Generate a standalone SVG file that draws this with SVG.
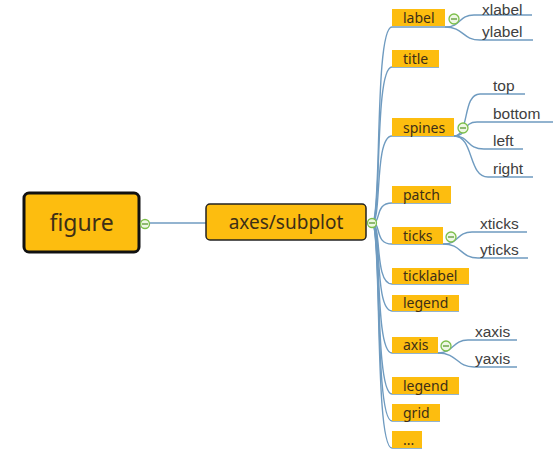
<svg xmlns="http://www.w3.org/2000/svg" width="560" height="457" viewBox="0 0 560 457">
<style>
.ln{fill:none;stroke:#6f9bc0;stroke-width:1.4}
.bx{fill:#fdbd0f}
.bt{font-family:"Noto Sans","Open Sans",sans-serif;font-size:14px;fill:#3d2f17}
.st{font-family:"Liberation Sans",Arial,sans-serif;font-size:15.5px;fill:#404040}
.cc{fill:#eef7e4;stroke:#7cbf4a;stroke-width:1.3}
.cm{stroke:#5a9a30;stroke-width:1.3}
</style>
<rect width="560" height="457" fill="#ffffff"/>
<g id="connectors">
<path class="ln" d="M150,223 L206,223"/>
<path class="ln" d="M372,223 C382,223 374,27 392,27 L445,27"/>
<path class="ln" d="M372,223 C382,223 374,67 392,67 L439,67"/>
<path class="ln" d="M372,223 C382,223 374,136 392,136 L454,136"/>
<path class="ln" d="M372,223 C382,223 374,203 392,203 L451,203"/>
<path class="ln" d="M372,223 C382,223 374,244 392,244 L443,244"/>
<path class="ln" d="M372,223 C382,223 374,284 392,284 L469,284"/>
<path class="ln" d="M372,223 C382,223 374,311 392,311 L459,311"/>
<path class="ln" d="M372,223 C382,223 374,353 392,353 L438,353"/>
<path class="ln" d="M372,223 C382,223 374,394 392,394 L459,394"/>
<path class="ln" d="M372,223 C382,223 374,421 392,421 L440,421"/>
<path class="ln" d="M372,223 C382,223 374,448 392,448 L422,448"/>
<path class="ln" d="M445,27 C462,27 458,15 474,15 L532,15"/>
<path class="ln" d="M445,27 C464,27 462,40 480,40 L533,40"/>
<path class="ln" d="M454,136 C470,136 462,94 480,94 L525,94"/>
<path class="ln" d="M454,136 C468,136 462,122 477,122 L553,122"/>
<path class="ln" d="M454,136 C470,136 466,149 484,149 L523,149"/>
<path class="ln" d="M454,136 C474,136 468,177 488,177 L533,177"/>
<path class="ln" d="M443,244 C460,244 456,232 472,232 L527,232"/>
<path class="ln" d="M443,244 C462,244 460,258 478,258 L528,258"/>
<path class="ln" d="M438,353 C454,353 452,340 468,340 L517,340"/>
<path class="ln" d="M438,353 C458,353 456,367 474,367 L517,367"/>
</g>
<g id="figure">
<rect x="24" y="193" width="115" height="59" rx="5" fill="#fdbd0f" stroke="#111" stroke-width="3"/>
<text x="81.5" y="231" text-anchor="middle" font-family="Noto Sans,Open Sans,sans-serif" font-size="23" fill="#3d2f17">figure</text>
<circle class="cc" cx="145" cy="224" r="4.5"/><line class="cm" x1="142" y1="224" x2="148" y2="224"/>
</g>
<g id="axes">
<rect x="206" y="204" width="160" height="36" rx="4" fill="#fdbd0f" stroke="#222" stroke-width="1.5"/>
<text x="286" y="229" text-anchor="middle" font-family="Noto Sans,Open Sans,sans-serif" font-size="19" fill="#3d2f17">axes/subplot</text>
<circle class="cc" cx="372" cy="223" r="4.5"/><line class="cm" x1="369" y1="223" x2="375" y2="223"/>
</g>
<g id="label"><rect class="bx" x="392" y="9" width="53" height="17"/><text class="bt" x="403" y="23">label</text>
<circle class="cc" cx="454" cy="19" r="5"/><line class="cm" x1="451" y1="19" x2="457" y2="19"/></g>
<g id="xlabel"><text class="st" x="482" y="14.5">xlabel</text></g>
<g id="ylabel"><text class="st" x="482" y="37">ylabel</text></g>
<g id="title"><rect class="bx" x="392" y="50" width="47" height="17"/><text class="bt" x="403" y="64">title</text></g>
<g id="spines"><rect class="bx" x="392" y="118" width="62" height="18"/><text class="bt" x="403" y="133">spines</text>
<circle class="cc" cx="463" cy="128" r="5"/><line class="cm" x1="460" y1="128" x2="466" y2="128"/></g>
<g id="top"><text class="st" x="493" y="91">top</text></g>
<g id="bottom"><text class="st" x="493" y="119">bottom</text></g>
<g id="left"><text class="st" x="493" y="146">left</text></g>
<g id="right"><text class="st" x="493" y="174">right</text></g>
<g id="patch"><rect class="bx" x="392" y="186" width="59" height="17"/><text class="bt" x="403" y="200">patch</text></g>
<g id="ticks"><rect class="bx" x="392" y="227" width="51" height="17"/><text class="bt" x="403" y="241">ticks</text>
<circle class="cc" cx="451" cy="237" r="5"/><line class="cm" x1="448" y1="237" x2="454" y2="237"/></g>
<g id="xticks"><text class="st" x="480" y="229">xticks</text></g>
<g id="yticks"><text class="st" x="480" y="255">yticks</text></g>
<g id="ticklabel"><rect class="bx" x="392" y="268" width="77" height="16"/><text class="bt" x="403" y="281">ticklabel</text></g>
<g id="legend1"><rect class="bx" x="392" y="295" width="67" height="16"/><text class="bt" x="403" y="308">legend</text></g>
<g id="axis"><rect class="bx" x="392" y="337" width="46" height="16"/><text class="bt" x="403" y="350">axis</text>
<circle class="cc" cx="446" cy="346" r="5"/><line class="cm" x1="443" y1="346" x2="449" y2="346"/></g>
<g id="xaxis"><text class="st" x="475" y="337">xaxis</text></g>
<g id="yaxis"><text class="st" x="475" y="364">yaxis</text></g>
<g id="legend2"><rect class="bx" x="392" y="377" width="67" height="17"/><text class="bt" x="403" y="391">legend</text></g>
<g id="grid"><rect class="bx" x="392" y="404" width="48" height="17"/><text class="bt" x="403" y="418">grid</text></g>
<g id="more"><rect class="bx" x="392" y="431" width="30" height="17"/><text class="bt" x="403" y="445">...</text></g>
</svg>
